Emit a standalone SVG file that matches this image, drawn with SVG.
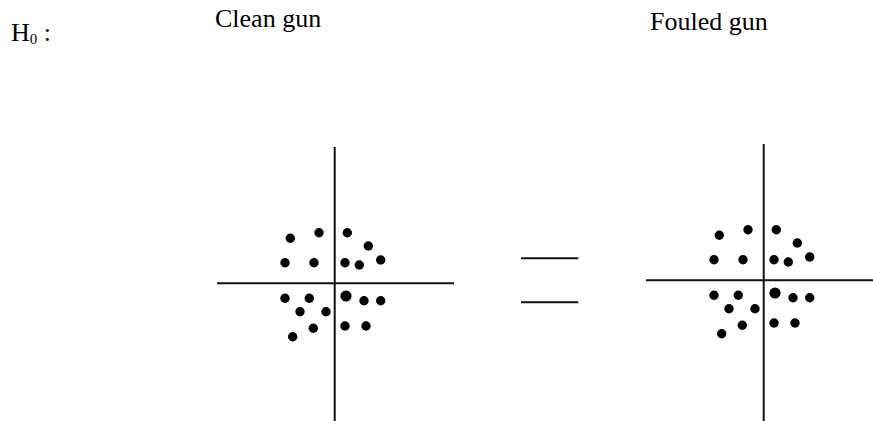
<svg xmlns="http://www.w3.org/2000/svg" xmlns:xlink="http://www.w3.org/1999/xlink" width="873" height="421" viewBox="0 0 873 421">
<style>
  text { font-family: "Liberation Serif", "Times New Roman", serif; font-size: 26px; fill: #000; }
  .axis { stroke: #111; stroke-width: 2; fill: none; }
  .dot { fill: #000; }
</style>
<defs>
  <g id="target">
    <line class="axis" x1="334.7" y1="147" x2="334.7" y2="425"/>
    <line class="axis" x1="217" y1="283.3" x2="454" y2="283.3"/>
    <circle class="dot" cx="290.3" cy="238.3" r="4.7"/>
    <circle class="dot" cx="319" cy="232.7" r="4.7"/>
    <circle class="dot" cx="347.3" cy="232.7" r="4.7"/>
    <circle class="dot" cx="368.3" cy="246" r="4.7"/>
    <circle class="dot" cx="285" cy="262.7" r="4.7"/>
    <circle class="dot" cx="314" cy="262.7" r="4.7"/>
    <circle class="dot" cx="345" cy="262.7" r="4.7"/>
    <circle class="dot" cx="359.3" cy="265" r="4.7"/>
    <circle class="dot" cx="380.7" cy="260" r="4.7"/>
    <circle class="dot" cx="285" cy="298.3" r="4.7"/>
    <circle class="dot" cx="309.3" cy="298.3" r="4.7"/>
    <circle class="dot" cx="300" cy="311.7" r="4.7"/>
    <circle class="dot" cx="326" cy="311.7" r="4.7"/>
    <circle class="dot" cx="313.3" cy="328.3" r="4.7"/>
    <circle class="dot" cx="292.7" cy="336.7" r="4.7"/>
    <circle class="dot" cx="346" cy="296" r="5.6"/>
    <circle class="dot" cx="364" cy="300.7" r="4.7"/>
    <circle class="dot" cx="380.7" cy="300.7" r="4.7"/>
    <circle class="dot" cx="345" cy="326" r="4.7"/>
    <circle class="dot" cx="366" cy="326" r="4.7"/>
  </g>
</defs>
<g id="hypothesis-label">
  <text x="11" y="41">H<tspan font-size="15" dy="3.3">0</tspan><tspan dy="-3.3"> :</tspan></text>
</g>
<g id="clean-gun-label">
  <text x="215" y="26.5" font-size="26.5">Clean gun</text>
</g>
<g id="fouled-gun-label">
  <text x="650" y="30">Fouled gun</text>
</g>
<g id="clean-gun-target">
  <use xlink:href="#target" href="#target"/>
</g>
<g id="equals-sign">
  <line class="axis" x1="521" y1="258.3" x2="578.3" y2="258.3"/>
  <line class="axis" x1="521" y1="302.3" x2="578.3" y2="302.3"/>
</g>
<g id="fouled-gun-target">
  <use xlink:href="#target" href="#target" transform="translate(429,-3)"/>
</g>
<g id="connectors"></g>
</svg>
